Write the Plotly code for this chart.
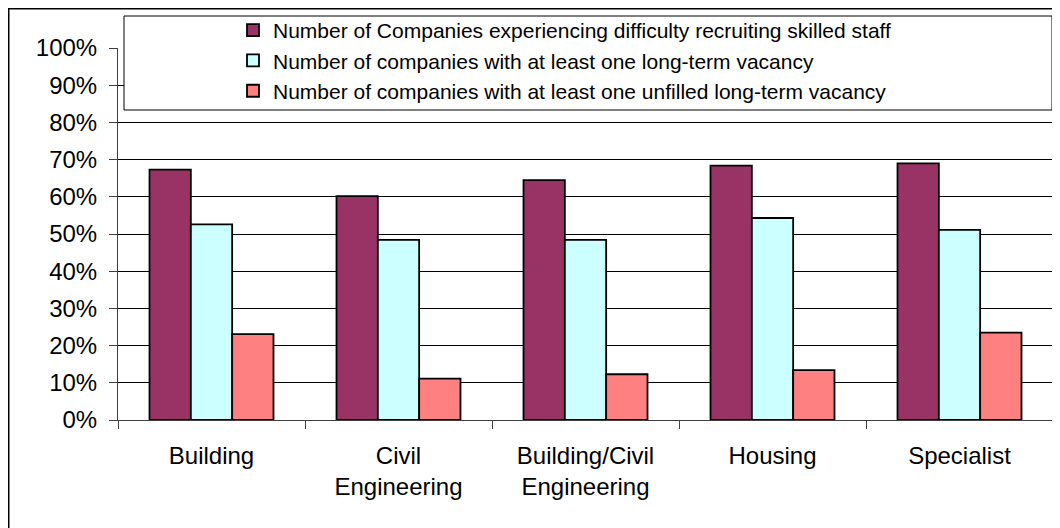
import plotly.graph_objects as go

categories = ["Building", "Civil<br>Engineering", "Building/Civil<br>Engineering", "Housing", "Specialist"]
series_names = [
    "Number of Companies experiencing difficulty recruiting skilled staff",
    "Number of companies with at least one long-term vacancy",
    "Number of companies with at least one unfilled long-term vacancy",
]
difficulty = [0.673, 0.602, 0.645, 0.684, 0.690]
long_term = [0.526, 0.484, 0.484, 0.543, 0.511]
unfilled = [0.231, 0.111, 0.123, 0.134, 0.235]
colors = ["#993366", "#CCFFFF", "#FF8080"]
y_ticks = [0, 0.1, 0.2, 0.3, 0.4, 0.5, 0.6, 0.7, 0.8, 0.9, 1.0]

FONT = "Liberation Sans, Arial, sans-serif"

W, H = 1060, 528
OFF = 8  # page body margin offset of the rendered figure
# plot area in screen pixels: left 118, right 1053, top 48, bottom 420
L = 118 - OFF
T = 48 - OFF
R = W - (1053 - OFF)
B = H - (420 - OFF)
pw, ph = W - L - R, H - T - B


def px_x(x):
    return (x - OFF - L) / pw


def px_y(y):
    return (H - B - (y - OFF)) / ph


fig = go.Figure()
for name, vals, c in zip(series_names, [difficulty, long_term, unfilled], colors):
    fig.add_trace(go.Bar(
        x=categories, y=vals, name=name,
        marker=dict(color=c, line=dict(color="black", width=1.8)),
    ))

shapes = [
    # legend box
    dict(type="rect", xref="paper", yref="paper",
         x0=px_x(124), x1=px_x(1052), y0=px_y(110), y1=px_y(16),
         fillcolor="white", line=dict(color="black", width=1), layer="above"),
    # outer chart frame
    dict(type="rect", xref="paper", yref="paper",
         x0=px_x(8), x1=px_x(1075), y0=px_y(545), y1=px_y(8),
         fillcolor="rgba(0,0,0,0)", line=dict(color="black", width=3), layer="above"),
]

fig.update_layout(
    width=W, height=H,
    margin=dict(l=L, r=R, t=T, b=B, pad=0, autoexpand=False),
    paper_bgcolor="white", plot_bgcolor="white",
    font=dict(family=FONT, size=22, color="black"),
    barmode="group", bargap=0.337, bargroupgap=0,
    showlegend=True,
    legend=dict(
        x=px_x(233), xanchor="left", y=px_y(10), yanchor="top",
        bgcolor="rgba(0,0,0,0)", borderwidth=0,
        font=dict(family=FONT, size=21, color="black"),
        traceorder="normal", tracegroupgap=0,
    ),
    shapes=shapes,
    xaxis=dict(
        showline=True, linecolor="#404040", linewidth=1,
        ticks="outside", ticklen=8, tickcolor="#404040", tickson="boundaries",
        tickfont=dict(family=FONT, size=24, color="black"),
        ticklabelstandoff=14, showgrid=False,
    ),
    yaxis=dict(
        range=[0, 1], tickvals=y_ticks, tickformat=".0%",
        showline=True, linecolor="#404040", linewidth=1, mirror=True,
        ticks="outside", ticklen=8, tickcolor="#404040",
        tickfont=dict(family=FONT, size=24, color="black"),
        ticklabelstandoff=7,
        showgrid=True, gridcolor="black", gridwidth=1, zeroline=False,
    ),
)

fig.write_html("out.html")
